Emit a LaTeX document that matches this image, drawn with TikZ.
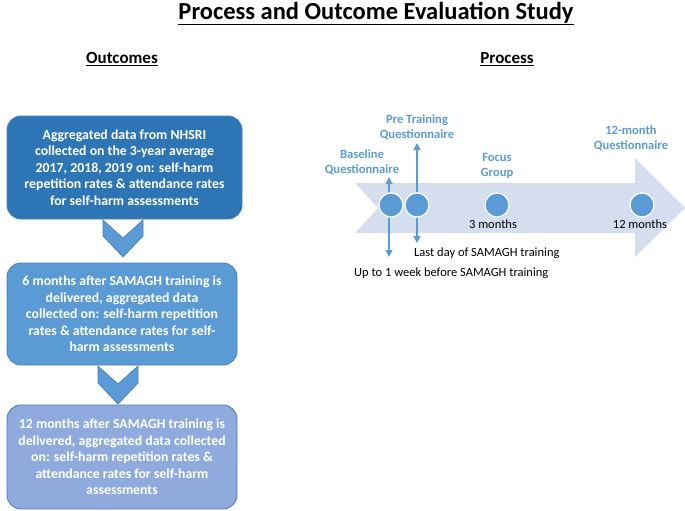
\documentclass[tikz,border=0pt]{standalone}
\usepackage{fontspec}
\setmainfont{Carlito}
\usetikzlibrary{arrows.meta}
\definecolor{darkbox}{HTML}{2E75B6}
\definecolor{midbox}{HTML}{5B9BD5}
\definecolor{lightbox}{HTML}{8FAADC}
\definecolor{boxline}{HTML}{4A7EBB}
\definecolor{bigarrow}{HTML}{D5DEEF}
\definecolor{labelblue}{HTML}{5B9BD5}
\tikzset{
  outbox/.style={draw=boxline, line width=0.9pt, rounded corners=14pt, text=white,
    font=\fontsize{13.8}{16.5}\selectfont\bfseries, align=center, inner sep=0pt},
  chev/.style={fill=midbox, draw=boxline, line width=0.7pt},
  dot/.style={circle, fill=midbox, draw=white, line width=1.2pt, minimum size=24pt, inner sep=0pt},
  plabel/.style={text=labelblue, font=\fontsize{12.6}{15}\selectfont\bfseries, align=center, inner sep=0pt},
  tlabel/.style={text=black, font=\fontsize{12.5}{14}\selectfont, inner sep=0pt},
  conn/.style={draw=labelblue, line width=1.1pt, -{Triangle[width=7pt,length=7pt]}},
  heading/.style={font=\fontsize{17}{20}\selectfont\bfseries, inner sep=0pt}
}
\begin{document}
\begin{tikzpicture}[x=1pt,y=-1pt]
\useasboundingbox (0,0) rectangle (685,511);
% titles
\node[font=\fontsize{24.5}{28}\selectfont\bfseries, inner sep=0pt] (title) at (376,13.5) {\underline{Process and Outcome Evaluation Study}};
\node[heading] (outc) at (122,59) {\underline{Outcomes}};
\node[heading] (proc) at (507,59) {\underline{Process}};
% outcome boxes
\node[outbox, fill=darkbox, minimum width=235pt, minimum height=103pt] (b1) at (124.5,167.5)
  {Aggregated data from NHSRI\\collected on the 3-year average\\2017, 2018, 2019 on: self-harm\\repetition rates \& attendance rates\\for self-harm assessments};
\node[outbox, fill=midbox, minimum width=230pt, minimum height=102pt] (b2) at (122,314)
  {6 months after SAMAGH training is\\delivered, aggregated data\\collected on: self-harm repetition\\rates \& attendance rates for self-\\harm assessments};
\node[outbox, fill=lightbox, minimum width=230pt, minimum height=104pt] (b3) at (122,457)
  {12 months after SAMAGH training is\\delivered, aggregated data collected\\on: self-harm repetition rates \&\\attendance rates for self-harm\\assessments};
% chevrons
\draw[chev] (103,220) -- (123,238) -- (143,220) -- (143,236) -- (123,257) -- (103,236) -- cycle;
\draw[chev] (98,366) -- (118,384) -- (138,366) -- (138,383) -- (118,404) -- (98,383) -- cycle;
% big timeline arrow
\fill[bigarrow] (355,183) -- (635,183) -- (635,158) -- (685,208) -- (635,257) -- (635,233) -- (355,233) -- (378,208) -- cycle;
% circles
\node[dot] (c1) at (391,205) {};
\node[dot] (c2) at (417,205) {};
\node[dot] (c3) at (497,205) {};
\node[dot] (c4) at (642,205) {};
% connectors
\coordinate (c1up) at (389,177);
\coordinate (c1dn) at (389,257);
\coordinate (c2up) at (417,143);
\coordinate (c2dn) at (417,243);
\draw[conn] (c1.north -| c1up) -- (c1up);
\draw[conn] (c1.south -| c1dn) -- (c1dn);
\draw[conn] (c2.north) -- (c2up);
\draw[conn] (c2.south) -- (c2dn);
% labels
\node[plabel] (lb) at (362,162) {Baseline\\Questionnaire};
\node[plabel] (lp) at (417,127) {Pre Training\\Questionnaire};
\node[plabel] (lf) at (497,166) {Focus\\Group};
\node[plabel] (l12) at (631,138) {12-month\\Questionnaire};
\node[tlabel] (m3) at (493,224) {3 months};
\node[tlabel] (m12) at (640,224) {12 months};
\node[tlabel, anchor=west] (last) at (414,253) {Last day of SAMAGH training};
\node[tlabel, anchor=west] (week) at (354,273) {Up to 1 week before SAMAGH training};
\end{tikzpicture}
\end{document}
